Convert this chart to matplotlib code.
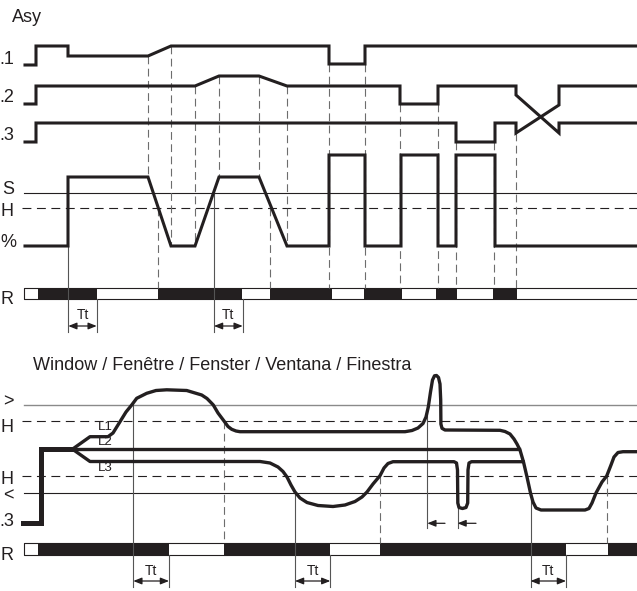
import matplotlib
matplotlib.use('Agg')
import matplotlib.pyplot as plt

plt.rcParams['font.family'] = ['Liberation Sans', 'DejaVu Sans']

INK = '#231f20'
GREY = '#6d6d6d'

# ---- top diagram (Asy), pixel coords of the drawing ----
L1_top_x = [25, 36, 36, 68, 68, 148, 171, 329, 329, 365, 365, 637]
L1_top_y = [65, 65, 46, 46, 56, 56, 46, 46, 64, 64, 46, 46]
L2_top_x = [25, 36, 36, 195, 219, 259, 287, 400, 400, 438, 438, 516, 516, 559, 559, 637]
L2_top_y = [104, 104, 86, 86, 76, 76, 86, 86, 104, 104, 86, 86, 95, 133, 123, 123]
L3_top_x = [25, 36, 36, 456, 456, 495, 495, 516, 516, 559, 559, 637]
L3_top_y = [142, 142, 123, 123, 142, 142, 123, 123, 133, 105, 86, 86]
sig_x = [25, 68, 68, 148, 171, 195, 219, 259, 287, 329, 329, 365, 365, 401, 401,
         438, 438, 456, 456, 495, 495, 637]
sig_y = [246, 246, 177, 177, 246, 246, 177, 177, 246, 246, 155, 155, 246, 246, 155,
         155, 246, 246, 155, 155, 246, 246]
S_level = 192.7
H_top_level = 207.7
top_dash = [(148, 56, 177), (171, 46, 246), (195, 86, 246), (219, 76, 177),
            (259, 76, 177), (287, 86, 246), (158, 208, 288), (270, 208, 288),
            (329, 64, 288), (365, 64, 288), (400, 104, 288), (437.5, 104, 288),
            (456, 142, 288), (494, 142, 288), (516, 133, 288)]
top_solid = [(68.3, 246, 332), (214, 193, 332)]
top_relay_on = [(38, 59), (158, 84), (270, 62), (364, 38), (436, 21), (493, 24)]
top_bar = (288.3, 10.7)
top_tt = [(68.3, 96.7), (214, 242.7)]

# ---- bottom diagram (window) ----
start_x = [23, 40.7, 40.7, 73]
start_y = [523.3, 523.3, 449, 449]
L1_bot_x = [72.7, 90, 108, 113, 120, 126, 131.7, 136.7, 146.7, 156, 166.7, 186.7,
            201.7, 207, 211.7, 213.3, 218, 224, 228, 231.7, 236, 240, 405, 412,
            418, 423, 426, 428.3, 430.5, 432.5, 434.5, 436.5, 438.5, 440, 440.7,
            440.9, 442, 445, 500, 505, 510, 514, 517, 520, 523.5, 527, 530.5, 533,
            536, 541, 585, 589, 592, 596, 602, 606.7, 611, 614, 618, 623, 637]
L1_bot_y = [449, 436.7, 436.7, 433, 421.7, 412, 405, 398.3, 393.3, 390.5, 389.8,
            390.5, 395, 398.5, 403.3, 405, 413, 421, 426.5, 429.3, 431, 431.7,
            431.7, 430.5, 428, 423.5, 417, 407, 392, 380, 375.8, 375.5, 377.5,
            384, 400, 424, 428.3, 430, 430.3, 431.5, 434, 439, 444, 450, 462,
            477, 493, 502, 508, 510, 510, 508.5, 503, 493, 482, 476, 465, 457,
            452.5, 451.7, 451.7]
L2_bot_x = [72.7, 519]
L2_bot_y = [449.3, 449.3]
L3_bot_x = [72.7, 90, 260, 270, 278, 283, 287, 291, 295, 300, 307, 318, 333, 345,
            355, 362, 367, 373, 380, 384, 388, 393, 454, 456.5, 457.5, 457.8,
            459, 462.5, 466, 467.7, 468, 469, 471.5, 523]
L3_bot_y = [449.3, 461.5, 461.5, 463, 467, 471.5, 477, 485, 492, 498, 502.5, 505.5,
            506.5, 505, 501.5, 497, 492, 484, 475.7, 468, 463.5, 461.7, 461.7,
            463, 470, 503, 507.5, 508.5, 507.5, 503, 470, 463, 461.7, 461.7]
gt_level = 405
H_up_level = 421
H_low_level = 476
lt_level = 493.3
bot_dash = [(224, 421, 543), (379.7, 476, 543), (607, 476, 543)]
bot_solid = [(133.3, 404, 587), (295, 493, 587), (427.3, 405, 528),
             (457.5, 493, 528), (530.5, 493, 587)]
bot_relay_on = [(38.3, 130.7), (224, 106.3), (379.7, 186.6), (607.7, 40)]
bot_bar = (543.3, 11.7)
bot_tt = [(133.3, 169), (295, 330.3), (530.5, 566)]
small_arrows = [(445, 427.3), (476, 457.5)]

top_labels = [('.1', 14, 60), ('.2', 14, 98), ('.3', 14, 136), ('S', 14, 189),
              ('H', 14, 211.7), ('%', 16.5, 242.7), ('R', 14, 300)]
bot_labels = [('>', 14, 401.7), ('H', 14, 427), ('H', 14, 480), ('<', 14, 496),
              ('.3', 14, 521.7), ('R', 14, 555)]

fig = plt.figure(figsize=(6.37, 5.91), dpi=100)
ax = fig.add_axes([0, 0, 1, 1])
ax.set_xlim(0, 637)
ax.set_ylim(591, 0)
ax.axis('off')

dash = (0, (8, 5))
vdash = (0, (7, 4))

# reference lines
ax.plot([24, 637], [S_level, S_level], color=INK, lw=0.8)
ax.plot([22, 637], [H_top_level, H_top_level], color=INK, lw=0.8, linestyle=dash)
ax.plot([24, 637], [gt_level, gt_level], color='#8a8a8a', lw=1.0)
ax.plot([22, 637], [H_up_level, H_up_level], color=INK, lw=0.8, linestyle=dash)
ax.plot([22, 637], [H_low_level, H_low_level], color=INK, lw=0.8, linestyle=dash)
ax.plot([24, 637], [lt_level, lt_level], color=INK, lw=0.8)

for x, y0, y1 in top_dash + bot_dash:
    ax.plot([x, x], [y0, y1], color=GREY, lw=0.8, linestyle=vdash)
for x, y0, y1 in top_solid + bot_solid:
    ax.plot([x, x], [y0, y1], color='#555555', lw=0.8)

# relay bars
for bar, on in [(top_bar, top_relay_on), (bot_bar, bot_relay_on)]:
    ax.broken_barh([(24, 640)], bar, facecolor='white', edgecolor=INK, lw=0.8)
    ax.broken_barh(on, bar, facecolor=INK, edgecolor='none')

# traces
for xs, ys in [(L1_top_x, L1_top_y), (L2_top_x, L2_top_y), (L3_top_x, L3_top_y),
               (sig_x, sig_y)]:
    ax.plot(xs, ys, color=INK, lw=2.2, solid_joinstyle='miter')
ax.plot(start_x, start_y, color=INK, lw=3.6, solid_joinstyle='miter')
for xs, ys in [(L2_bot_x, L2_bot_y), (L3_bot_x, L3_bot_y), (L1_bot_x, L1_bot_y)]:
    ax.plot(xs, ys, color=INK, lw=2.4, solid_joinstyle='round')

# Tt markers
def tt(pairs, y_arrow, y_text, y_tick0, y_tick1):
    for x0, x1 in pairs:
        ax.plot([x1, x1], [y_tick0, y_tick1], color='#555555', lw=0.8)
        ax.annotate('', xy=(x1, y_arrow), xytext=(x0, y_arrow),
                    arrowprops=dict(arrowstyle='<|-|>,head_length=0.5,head_width=0.2',
                                    color=INK, lw=0.9, shrinkA=0, shrinkB=0))
        ax.text((x0 + x1) / 2, y_text, 'Tt', fontsize=10, ha='center',
                va='center', color=INK)

tt(top_tt, 326, 315, 299, 331.7)
tt(bot_tt, 581, 571, 555, 587)

for x0, x1 in small_arrows:
    ax.annotate('', xy=(x1, 523.3), xytext=(x0, 523.3),
                arrowprops=dict(arrowstyle='-|>,head_length=0.5,head_width=0.2',
                                color=INK, lw=0.9, shrinkA=0, shrinkB=0))

# text
ax.text(12, 17, 'Asy', fontsize=13, ha='left', va='center', color=INK)
ax.text(33, 365, 'Window / Fenêtre / Fenster / Ventana / Finestra', fontsize=13,
        ha='left', va='center', color=INK)
for s, x, y in top_labels + bot_labels:
    ax.text(x, y, s, fontsize=13, ha='right', va='center', color=INK)
for s, x, y in [('L1', 98, 426.7), ('L2', 98, 441.7), ('L3', 98, 468.3)]:
    ax.text(x, y, s, fontsize=9.5, ha='left', va='center', color=INK)

fig.savefig('out.png', dpi=100)
